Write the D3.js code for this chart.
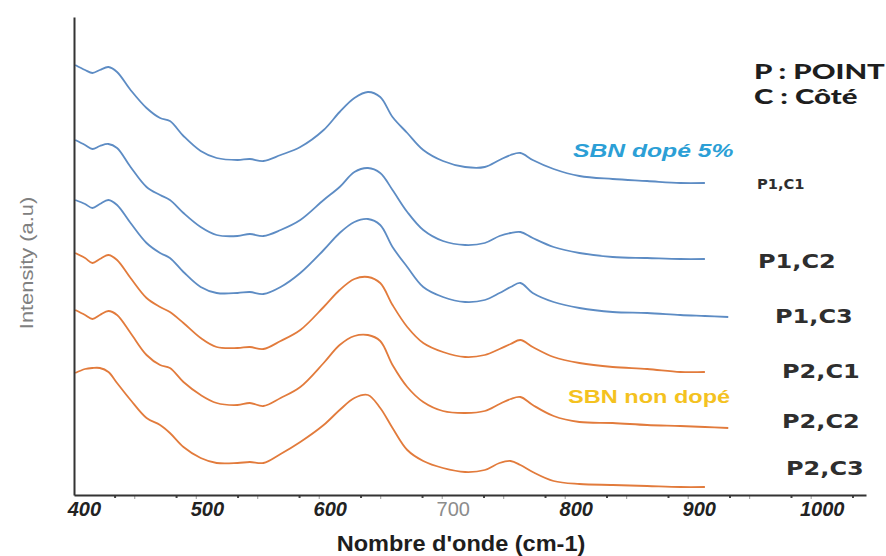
<!DOCTYPE html>
<html>
<head>
<meta charset="utf-8">
<script src="https://cdn.jsdelivr.net/npm/d3@7"></script>
<style>
  body { margin: 0; background: #fff; }
  svg { display: block; }
</style>
</head>
<body>
<div id="chart"></div>
<script>
// wavenumber grid (cm-1), shared by all spectra
const wavenumbers = [393, 401, 407, 413, 420, 427, 438, 451, 462, 470, 481, 495, 508, 525, 535, 546,
    560, 576, 595, 608, 620, 631, 641, 651, 663, 676, 692, 710, 726, 738, 747, 755, 765, 782,
    803, 830, 858, 885, 905, 924];

// stacked intensities (a.u)
const p1c1 = [430, 425, 422, 425, 428, 423, 405, 387, 377, 374, 359, 344, 337, 335, 336, 334,
    340, 348, 365, 383, 397, 403, 398, 378, 362, 345, 334, 328, 328, 335, 340, 342, 335, 326,
    319, 316, 314, 312, 312];
const p1c2 = [355, 350, 346, 349, 351, 347, 328, 308, 300, 295, 282, 268, 260, 259, 261, 259,
    265, 275, 295, 308, 323, 327, 322, 305, 283, 265, 254, 250, 252, 259, 262, 263, 257, 248,
    242, 238, 237, 236, 236];
const p1c3 = [295, 291, 287, 291, 295, 290, 272, 252, 242, 237, 223, 208, 202, 202, 203, 201,
    208, 222, 245, 262, 273, 276, 270, 248, 228, 208, 198, 193, 195, 202, 208, 212, 202, 193,
    187, 183, 182, 180, 179, 178];
const p2c1 = [242, 237, 232, 236, 240, 235, 217, 197, 188, 183, 172, 157, 148, 147, 148, 146,
    154, 165, 188, 205, 216, 218, 212, 190, 168, 152, 143, 138, 140, 146, 151, 155, 148, 138,
    132, 128, 126, 123, 123];
const p2c2 = [185, 180, 176, 180, 184, 180, 162, 140, 130, 127, 113, 100, 92, 90, 92, 89,
    97, 108, 132, 150, 159, 160, 154, 130, 108, 93, 84, 82, 84, 91, 96, 98, 90, 79,
    73, 72, 70, 69, 68, 67];
const p2c3 = [122, 126, 127, 127, 123, 112, 95, 77, 70, 62, 48, 37, 32, 32, 33, 32,
    41, 53, 70, 85, 97, 100, 87, 67, 45, 34, 27, 23, 25, 32, 34, 30, 23, 14,
    11, 10, 9, 8, 8];

const seriesNames = ["P1,C1", "P1,C2", "P1,C3", "P2,C1", "P2,C2", "P2,C3"];
const seriesValues = [p1c1, p1c2, p1c3, p2c1, p2c2, p2c3];
const seriesGroup = ["dope", "dope", "dope", "non", "non", "non"];
const tickLabels = [400, 500, 600, 700, 800, 900, 1000];

const width = 886, height = 556;

const color = d3.scaleOrdinal()
    .domain(["dope", "non"])
    .range(["#5d8cc4", "#e27b3c"]);

const x = d3.scaleLinear().domain([392, 1036]).range([74, 866]);
const y = d3.scaleLinear().domain([0, 478]).range([495, 17]);

let svg = d3.select("#chart")
    .append("svg")
    .attr("width", width)
    .attr("height", height)
    .style("background", "#fff");

// spectra
let line = d3.line()
    .x(function (d, i) { return x(wavenumbers[i]); })
    .y(function (d) { return y(d); })
    .curve(d3.curveCatmullRom.alpha(0.5));

svg.selectAll(".spectrum")
    .data(seriesValues)
    .enter()
    .append("path")
    .attr("class", "spectrum")
    .attr("d", line)
    .attr("fill", "none")
    .attr("stroke", function (d, i) { return color(seriesGroup[i]); })
    .attr("stroke-width", 1.8)
    .attr("stroke-linejoin", "round");

// small ticks along the x axis
svg.append("g")
    .attr("transform", "translate(0,495)")
    .call(d3.axisBottom(x).tickValues(d3.range(425, 1030, 50)).tickSize(3).tickFormat(""))
    .call(g => g.select(".domain").remove())
    .call(g => g.selectAll("line").attr("stroke", "#444").attr("stroke-width", 2));
svg.append("g")
    .attr("transform", "translate(0,495)")
    .call(d3.axisBottom(x).tickValues(d3.range(441, 1030, 50)).tickSize(4).tickFormat(""))
    .call(g => g.select(".domain").remove())
    .call(g => g.selectAll("line").attr("stroke", "#999"));

// x axis with labels
let xAxis = svg.append("g")
    .attr("transform", "translate(0,495)")
    .call(d3.axisBottom(x).tickValues(tickLabels).tickSize(0).tickFormat(d3.format("d")));
xAxis.select(".domain").attr("stroke", "#333").attr("stroke-width", 2);
xAxis.selectAll("text")
    .attr("y", 21)
    .attr("dy", 0)
    .style("font-family", "'Liberation Sans', Arial, sans-serif")
    .style("font-size", "20px")
    .style("font-weight", function (d) { return d === 700 ? "normal" : "bold"; })
    .style("font-style", function (d) { return d === 700 ? "normal" : "italic"; })
    .attr("fill", function (d) { return d === 700 ? "#8c8c8c" : "#222"; });

// y axis line only
svg.append("g")
    .attr("transform", "translate(74,0)")
    .call(d3.axisLeft(y).tickValues([]).tickSizeOuter(0))
    .select(".domain").attr("stroke", "#333").attr("stroke-width", 2);

// axis titles
svg.append("text")
    .attr("transform", "translate(461,551) scale(1.07,1)")
    .attr("text-anchor", "middle")
    .style("font-family", "'Liberation Sans', Arial, sans-serif")
    .style("font-size", "22px")
    .style("font-weight", "bold")
    .attr("fill", "#1e1e1e")
    .text("Nombre d'onde (cm-1)");

svg.append("text")
    .attr("transform", "translate(33,263) rotate(-90) scale(1.15,1)")
    .attr("text-anchor", "middle")
    .style("font-family", "'Liberation Sans', Arial, sans-serif")
    .style("font-size", "19px")
    .attr("fill", "#808080")
    .text("Intensity (a.u)");

// series labels on the right
const labelPos = [[757, 189, 14, 1.05], [758, 268, 20, 1.2], [775, 323, 20, 1.2], [782, 378, 20, 1.2], [782, 428, 20, 1.2], [786, 475, 20, 1.2]];
svg.selectAll(".serieslabel")
    .data(seriesNames)
    .enter()
    .append("text")
    .attr("class", "serieslabel")
    .attr("transform", function (d, i) {
        return "translate(" + labelPos[i][0] + "," + labelPos[i][1] + ") scale(" + labelPos[i][3] + ",1)";
    })
    .style("font-family", "'DejaVu Sans', sans-serif")
    .style("font-size", function (d, i) { return labelPos[i][2] + "px"; })
    .style("font-weight", "bold")
    .attr("fill", "#2e2e2e")
    .text(function (d) { return d; });

// group annotations
svg.append("text")
    .attr("transform", "translate(573,157) scale(1.3,1)")
    .style("font-family", "'Liberation Sans', Arial, sans-serif")
    .style("font-size", "19px")
    .style("font-weight", "bold")
    .style("font-style", "italic")
    .attr("fill", "#2c9fd6")
    .text("SBN dopé 5%");

svg.append("text")
    .attr("transform", "translate(568,403) scale(1.24,1)")
    .style("font-family", "'Liberation Sans', Arial, sans-serif")
    .style("font-size", "19px")
    .style("font-weight", "bold")
    .attr("fill", "#f4c21f")
    .text("SBN non dopé");

// legend of abbreviations
svg.append("text")
    .attr("transform", "translate(754,79) scale(1.4,1)")
    .style("font-family", "Lato, sans-serif")
    .style("font-size", "21px")
    .style("font-weight", "900")
    .attr("fill", "#1e1e1e")
    .text("P : POINT");

svg.append("text")
    .attr("transform", "translate(754,104) scale(1.4,1)")
    .style("font-family", "Lato, sans-serif")
    .style("font-size", "21px")
    .style("font-weight", "900")
    .attr("fill", "#1e1e1e")
    .text("C : Côté");
</script>
</body>
</html>
